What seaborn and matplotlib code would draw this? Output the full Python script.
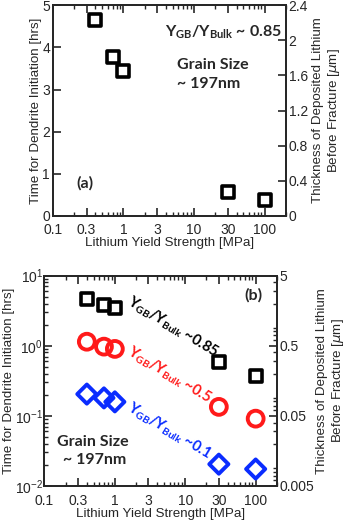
import numpy as np
import matplotlib
matplotlib.use("Agg")
import matplotlib.pyplot as plt
import matplotlib.ticker as mticker
import seaborn as sns

# yield strength [MPa]
strength = [0.4, 0.7, 1.0, 30, 100]
# time for dendrite initiation [hrs]
t_085 = [4.65, 3.77, 3.45, 0.58, 0.37]
t_05 = [1.14, 0.97, 0.90, 0.134, 0.091]
t_01 = [0.204, 0.180, 0.158, 0.0204, 0.0174]

x_ticks = [0.1, 0.3, 1, 3, 10, 30, 100]
x_ticklabels = ["0.1", "0.3", "1", "3", "10", "30", "100"]
top_right_ticks = [0, 0.4, 0.8, 1.2, 1.6, 2, 2.4]
bot_right_ticks = [0.005, 0.05, 0.5, 5]

sns.set_theme(style="ticks")
plt.rcParams["font.family"] = ["Liberation Sans", "DejaVu Sans"]
# custom mathtext only used by the bold annotations
plt.rcParams["mathtext.rm"] = "Lato:bold"
plt.rcParams["mathtext.it"] = "Lato:bold"
plt.rcParams["mathtext.bf"] = "Lato:bold"
plt.rcParams["axes.linewidth"] = 1.3
plt.rcParams["xtick.direction"] = "in"
plt.rcParams["ytick.direction"] = "in"
plt.rcParams["xtick.major.size"] = 6
plt.rcParams["ytick.major.size"] = 6
plt.rcParams["xtick.minor.size"] = 3
plt.rcParams["ytick.minor.size"] = 3
plt.rcParams["xtick.major.width"] = 1.2
plt.rcParams["ytick.major.width"] = 1.2
plt.rcParams["xtick.minor.width"] = 1.0
plt.rcParams["ytick.minor.width"] = 1.0

fs = 10
lfs = 9.6
ann = dict(fontsize=11.5, fontweight="bold", family="Lato", math_fontfamily="custom")
RED = "#ff1a1a"
BLUE = "#0a2cff"
right_label = "Thickness of Deposited Lithium\nBefore Fracture [$\\mu$m]"

fig = plt.figure(figsize=(3.5, 5.23), dpi=100)
ax1 = fig.add_axes([0.151, 0.587, 0.666, 0.403])
ax2 = fig.add_axes([0.127, 0.071, 0.664, 0.402])


def style_x(ax, pad=5):
    ax.set_xscale("log")
    ax.set_xlim(0.1, 200)
    ax.set_xticks(x_ticks)
    ax.set_xticklabels(x_ticklabels)
    ax.xaxis.set_minor_locator(mticker.LogLocator(base=10, subs=np.arange(2, 10)))
    ax.xaxis.set_minor_formatter(mticker.NullFormatter())
    ax.tick_params(axis="x", which="both", top=True, labelsize=fs, pad=pad)
    ax.tick_params(axis="y", which="both", right=False, labelsize=fs, pad=2)
    ax.set_xlabel("Lithium Yield Strength [MPa]", fontsize=lfs, labelpad=0)
    ax.set_ylabel("Time for Dendrite Initiation [hrs]", fontsize=lfs, labelpad=0)


# ---- panel (a) ----
sns.scatterplot(x=strength, y=t_085, ax=ax1, marker="s", s=75,
                facecolor="none", edgecolor="black", linewidth=2.6, legend=False)
style_x(ax1)
ax1.set_ylim(0, 5)
ax1.set_yticks([0, 1, 2, 3, 4, 5])
ax1r = ax1.twinx()
ax1r.set_ylim(0, 2.4)
ax1r.set_yticks(top_right_ticks)
ax1r.set_yticklabels(["0", "0.4", "0.8", "1.2", "1.6", "2", "2.4"])
ax1r.tick_params(axis="y", labelsize=fs, direction="in", length=6, pad=2)
ax1r.set_ylabel(right_label, fontsize=lfs, labelpad=3)

ax1.text(0.48, 0.872, "$Y_{GB}/Y_{Bulk}$ ~ 0.85", transform=ax1.transAxes,
         va="center", **ann)
ax1.text(0.532, 0.716, "Grain Size", transform=ax1.transAxes, va="center", **ann)
ax1.text(0.532, 0.626, "~ 197nm", transform=ax1.transAxes, va="center", **ann)
ax1.text(0.103, 0.156, "(a)", transform=ax1.transAxes, va="center", **ann)

# ---- panel (b) ----
sns.scatterplot(x=strength, y=t_085, ax=ax2, marker="s", s=75,
                facecolor="none", edgecolor="black", linewidth=2.6, legend=False)
sns.scatterplot(x=strength, y=t_05, ax=ax2, marker="o", s=130,
                facecolor="none", edgecolor=RED, linewidth=2.8, legend=False)
sns.scatterplot(x=strength, y=t_01, ax=ax2, marker="D", s=95,
                facecolor="none", edgecolor=BLUE, linewidth=2.8, legend=False)
style_x(ax2, pad=6)
ax2.set_yscale("log")
ax2.set_ylim(0.01, 10)
ax2.yaxis.set_major_locator(mticker.LogLocator(base=10))
ax2.yaxis.set_minor_locator(mticker.LogLocator(base=10, subs=np.arange(2, 10)))
ax2.yaxis.set_minor_formatter(mticker.NullFormatter())
ax2.tick_params(axis="y", which="major", pad=1)
ax2r = ax2.twinx()
ax2r.set_yscale("log")
ax2r.set_ylim(0.005, 5)
ax2r.set_yticks(bot_right_ticks)
ax2r.set_yticklabels(["0.005", "0.05", "0.5", "5"])
ax2r.yaxis.set_minor_locator(mticker.LogLocator(base=10, subs=np.arange(2, 10)))
ax2r.yaxis.set_minor_formatter(mticker.NullFormatter())
ax2r.tick_params(axis="y", which="both", labelsize=fs, direction="in", pad=2)
ax2r.set_ylabel(right_label, fontsize=lfs, labelpad=1)

ax2.text(0.862, 0.906, "(b)", transform=ax2.transAxes, va="center", **ann)
ax2.text(0.056, 0.211, "Grain Size", transform=ax2.transAxes, va="center", **ann)
ax2.text(0.078, 0.122, "~ 197nm", transform=ax2.transAxes, va="center", **ann)

rot = dict(ann, fontsize=10.5)
for txt, y0, col in [("~0.85", 301, "black"), ("~0.5", 351, RED), ("~0.1", 407, BLUE)]:
    fig.text(128 / 350, 1 - y0 / 523, "$Y_{GB}/Y_{Bulk}$ " + txt, color=col,
             rotation=-31, rotation_mode="anchor", ha="left", va="center", **rot)

fig.savefig("out.png", dpi=100)
